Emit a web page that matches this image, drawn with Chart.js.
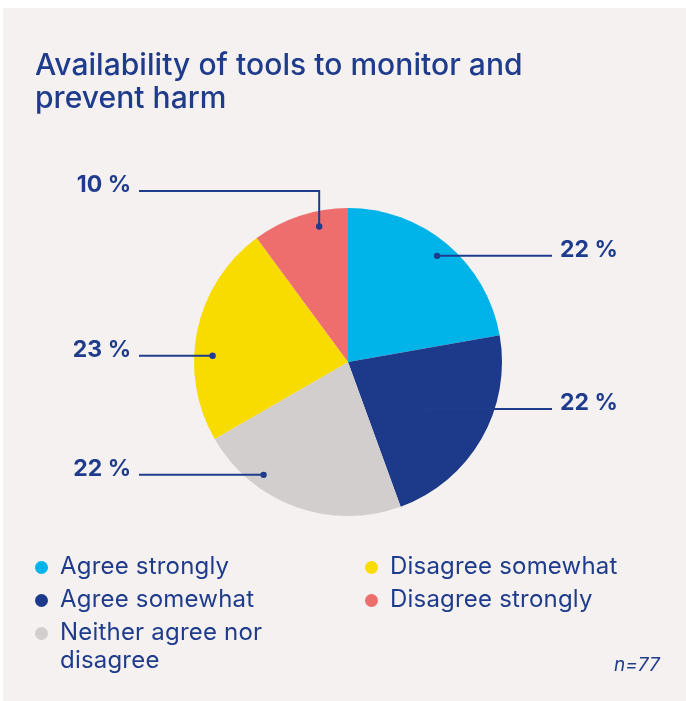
<!DOCTYPE html>
<html>
<head>
<meta charset="utf-8">
<script src="https://cdn.jsdelivr.net/npm/chart.js@4.4.1/dist/chart.umd.min.js"></script>
<style>
  html, body { margin: 0; padding: 0; background: #ffffff; }
  body { width: 686px; height: 701px; position: relative; overflow: hidden; font-family: Inter, "Noto Sans", sans-serif; color: #1f3c8c; }
  #panel { position: absolute; left: 3px; top: 8px; width: 683px; height: 693px; background: #f4f1f0; }
  #chart { position: absolute; left: 0; top: 0; }
  #title { position: absolute; left: 35px; top: 48px; font-size: 30px; font-weight: 500; line-height: 33px; letter-spacing: 0.05px; margin: 0; }
  .legend { position: absolute; top: 552px; width: 310px; font-size: 24px; line-height: 28px; letter-spacing: 0.2px; }
  .legend .item { position: relative; padding-left: 25px; margin-bottom: 5px; }
  .legend .dot { position: absolute; left: 0; top: 9px; width: 13px; height: 13px; border-radius: 50%; }
  #leg1 { left: 35px; }
  #leg2 { left: 365px; }
  #note { position: absolute; left: 614px; top: 653px; font-size: 19px; font-style: italic; }
</style>
</head>
<body>
<div id="panel"></div>
<canvas id="chart" width="686" height="701"></canvas>
<h1 id="title">Availability of tools to monitor and<br>prevent harm</h1>
<div class="legend" id="leg1"></div>
<div class="legend" id="leg2"></div>
<div id="note">n=77</div>
<script>
// Answer categories and their shares (per cent, n = 77)
const categories = ['Agree strongly', 'Agree somewhat', 'Neither agree nor disagree', 'Disagree somewhat', 'Disagree strongly'];
const shares = [22, 22, 22, 23, 10];
const sliceColors = ['#00b4ea', '#1d398a', '#d2cecd', '#f8dc00', '#ee6e6e'];
const legendColumns = [[0, 1, 2], [3, 4]];
const ink = '#1f3c8c';

// Callout placement per slice: where inside the slice the dot sits, and which side the label goes
const callouts = [
  { t: 0.50, rf: 0.90, side: 'right' },
  { t: 0.50, rf: 0.61, side: 'right' },
  { t: 0.71, rf: 0.915, side: 'left' },
  { t: 0.39, rf: 0.88, side: 'left' },
  { t: 0.67, rf: 0.90, side: 'left', elbowY: 191 }
];

const calloutPlugin = {
  id: 'callouts',
  afterDatasetsDraw(chart) {
    const ctx = chart.ctx;
    const meta = chart.getDatasetMeta(0);
    ctx.save();
    meta.data.forEach((arc, i) => {
      const c = callouts[i];
      const { x: cx, y: cy, startAngle, endAngle, outerRadius } = arc.getProps(['x', 'y', 'startAngle', 'endAngle', 'outerRadius'], true);
      const a = startAngle + (endAngle - startAngle) * c.t;
      const r = outerRadius * c.rf;
      const dx = cx + r * Math.cos(a);
      const dy = cy + r * Math.sin(a);
      const lineY = c.elbowY !== undefined ? c.elbowY : dy;
      const endX = c.side === 'right' ? 552 : 139;
      ctx.strokeStyle = ink;
      ctx.lineWidth = 2;
      ctx.beginPath();
      ctx.moveTo(endX, lineY);
      ctx.lineTo(dx, lineY);
      if (lineY !== dy) ctx.lineTo(dx, dy);
      ctx.stroke();
      ctx.fillStyle = ink;
      ctx.beginPath();
      ctx.arc(dx, dy, 3.2, 0, Math.PI * 2);
      ctx.fill();
      ctx.font = 'bold 23px Inter, "Noto Sans", sans-serif';
      ctx.textBaseline = 'alphabetic';
      const label = shares[i] + ' %';
      if (c.side === 'right') {
        ctx.textAlign = 'left';
        ctx.fillText(label, 560, lineY + 1);
      } else {
        ctx.textAlign = 'right';
        ctx.fillText(label, 131, lineY + 1);
      }
    });
    ctx.restore();
  }
};

new Chart(document.getElementById('chart'), {
  type: 'pie',
  data: {
    labels: categories,
    datasets: [{
      data: shares,
      backgroundColor: sliceColors,
      borderWidth: 0
    }]
  },
  options: {
    responsive: false,
    animation: false,
    layout: { padding: { left: 194, right: 184, top: 208, bottom: 185 } },
    plugins: {
      legend: { display: false },
      tooltip: { enabled: false }
    }
  },
  plugins: [calloutPlugin]
});

// Two-column legend
legendColumns.forEach((col, k) => {
  const box = document.getElementById('leg' + (k + 1));
  col.forEach(i => {
    const item = document.createElement('div');
    item.className = 'item';
    const dot = document.createElement('span');
    dot.className = 'dot';
    dot.style.background = sliceColors[i];
    item.appendChild(dot);
    const txt = document.createElement('span');
    txt.textContent = i === 2 ? 'Neither agree nor' : categories[i];
    item.appendChild(txt);
    if (i === 2) {
      item.appendChild(document.createElement('br'));
      item.appendChild(document.createTextNode('disagree'));
    }
    box.appendChild(item);
  });
});
</script>
</body>
</html>
